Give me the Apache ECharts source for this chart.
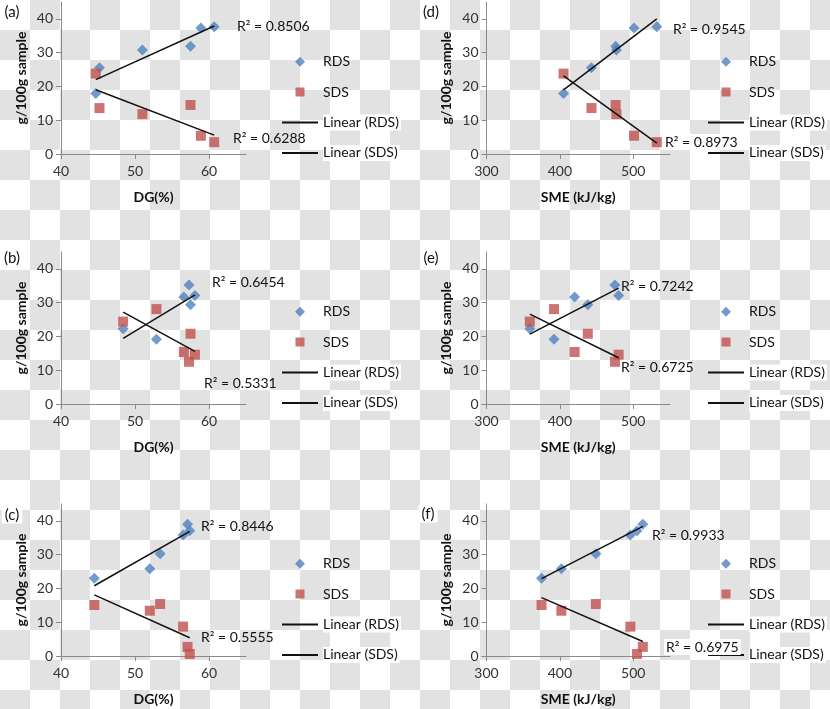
<!DOCTYPE html>
<html>
<head>
<meta charset="utf-8">
<script src="https://cdn.jsdelivr.net/npm/echarts@6/dist/echarts.min.js"></script>
<style>
  html, body { margin: 0; padding: 0; }
  body {
    width: 830px; height: 709px;
    background: repeating-conic-gradient(#e2e2e2 0 25%, #ffffff 0 50%) 0 0 / 60px 60px;
  }
  #chart { width: 830px; height: 709px; }
</style>
</head>
<body>
<div id="chart"></div>
<script>
// ---------- data ----------
// sample set 1 -> panels (a) and (d)
const dg1  = [44.7, 45.2, 51.0, 57.5, 58.9, 60.7];
const sme1 = [405, 443, 477, 476, 501, 532];
const rds1 = [17.9, 25.5, 30.8, 31.9, 37.3, 37.7];
const sds1 = [23.8, 13.6, 11.8, 14.5, 5.4, 3.5];
// sample set 2 -> panels (b) and (e)
const dg2  = [48.4, 52.9, 56.6, 57.3, 57.5, 58.1];
const sme2 = [359, 392, 420, 475, 438, 480];
const rds2 = [22.3, 19.2, 31.7, 35.2, 29.4, 32.1];
const sds2 = [24.4, 28.1, 15.4, 12.5, 20.8, 14.6];
// sample set 3 -> panels (c) and (f)
const dg3  = [44.5, 52.0, 53.4, 56.5, 57.1, 57.4];
const sme3 = [375, 402, 449, 496, 513, 505];
const rds3 = [23.0, 25.8, 30.3, 35.8, 39.0, 37.1];
const sds3 = [15.1, 13.4, 15.4, 8.7, 2.7, 0.6];

// trendline end points [[x0,y0],[x1,y1]]
const trendRdsA = [[44.7, 22.0], [60.7, 37.9]];
const trendSdsA = [[44.7, 19.0], [60.7, 5.6]];
const trendRdsB = [[48.4, 19.4], [58.1, 32.3]];
const trendSdsB = [[48.4, 27.2], [58.1, 15.6]];
const trendRdsC = [[44.5, 20.8], [57.4, 36.9]];
const trendSdsC = [[44.5, 18.1], [57.4, 5.4]];
const trendRdsD = [[405, 19.0], [532, 40.0]];
const trendSdsD = [[405, 23.1], [532, 3.2]];
const trendRdsE = [[359, 20.7], [480, 34.3]];
const trendSdsE = [[359, 26.6], [480, 13.7]];
const trendRdsF = [[375, 22.9], [513, 38.4]];
const trendSdsF = [[375, 17.3], [513, 4.3]];

const r2Labels = ['R² = 0.8506', 'R² = 0.6288', 'R² = 0.6454', 'R² = 0.5331', 'R² = 0.8446', 'R² = 0.5555',
                  'R² = 0.9545', 'R² = 0.8973', 'R² = 0.7242', 'R² = 0.6725', 'R² = 0.9933', 'R² = 0.6975'];
const panelLabels = ['(a)', '(b)', '(c)', '(d)', '(e)', '(f)'];

const dgTicks  = [40, 50, 60];
const smeTicks = [300, 400, 500];
const yTicks   = [0, 10, 20, 30, 40];
const legendNames = ['RDS', 'SDS', 'Linear (RDS)', 'Linear (SDS)'];

// ---------- build ----------
const pair = (xs, ys) => xs.map((x, i) => [x, ys[i]]);
const panels = [
  { x: dg1,  rds: rds1, sds: sds1, tr: trendRdsA, ts: trendSdsA, kind: 'dg' },
  { x: dg2,  rds: rds2, sds: sds2, tr: trendRdsB, ts: trendSdsB, kind: 'dg' },
  { x: dg3,  rds: rds3, sds: sds3, tr: trendRdsC, ts: trendSdsC, kind: 'dg' },
  { x: sme1, rds: rds1, sds: sds1, tr: trendRdsD, ts: trendSdsD, kind: 'sme' },
  { x: sme2, rds: rds2, sds: sds2, tr: trendRdsE, ts: trendSdsE, kind: 'sme' },
  { x: sme3, rds: rds3, sds: sds3, tr: trendRdsF, ts: trendSdsF, kind: 'sme' }
];
const FONT = 'Lato, "Liberation Sans", sans-serif';
const tops = [2, 252, 504];
const axisColor = '#8a8a8a';
// legend icons laid out in a 36x10 box (corner points fix the box so shapes keep their size)
const diamondIcon = 'path://M0,0L0,0ZM36,10L36,10ZM18,0L23,5L18,10L13,5Z';
const squareIcon  = 'path://M0,0L0,0ZM36,10L36,10ZM13.5,0.5H22.5V9.5H13.5Z';

const grid = [], xAxis = [], yAxis = [], series = [], legend = [];
panels.forEach((p, i) => {
  const col = i < 3 ? 0 : 1;
  const top = tops[i % 3];
  const left = col === 0 ? 61 : 486.5;
  grid.push({ left: left, top: top, width: col === 0 ? 185 : 183.5, height: 152 });
  xAxis.push({
    type: 'value', gridIndex: i,
    min: p.kind === 'dg' ? 40 : 300, max: p.kind === 'dg' ? 65 : 550,
    name: p.kind === 'dg' ? 'DG(%)' : 'SME (kJ/kg)',
    nameLocation: 'middle', nameGap: 36, nameMoveOverlap: false,
    nameTextStyle: { fontFamily: FONT, fontSize: 14, fontWeight: 'bold', color: '#111' },
    axisLine: { show: true, lineStyle: { color: axisColor, width: 1 } },
    axisTick: { show: true, length: 5, lineStyle: { color: axisColor },
                customValues: p.kind === 'dg' ? dgTicks : smeTicks },
    axisLabel: { fontFamily: FONT, fontSize: 14, color: '#333', margin: 10,
                 customValues: p.kind === 'dg' ? dgTicks : smeTicks },
    splitLine: { show: false }
  });
  yAxis.push({
    type: 'value', gridIndex: i, min: 0, max: 45,
    name: 'g/100g sample', nameLocation: 'middle', nameGap: 33, nameMoveOverlap: false,
    nameTextStyle: { fontFamily: FONT, fontSize: 14, fontWeight: 'bold', color: '#111' },
    axisLine: { show: true, lineStyle: { color: axisColor, width: 1 } },
    axisTick: { show: true, length: 5, lineStyle: { color: axisColor }, customValues: yTicks },
    axisLabel: { fontFamily: FONT, fontSize: 14, color: '#333', margin: 8, customValues: yTicks },
    splitLine: { show: false }
  });
  series.push({ name: 'RDS', type: 'scatter', xAxisIndex: i, yAxisIndex: i,
    symbol: 'diamond', symbolSize: 11, itemStyle: { color: '#4F81BD' }, data: pair(p.x, p.rds), z: 2 });
  series.push({ name: 'SDS', type: 'scatter', xAxisIndex: i, yAxisIndex: i,
    symbol: 'rect', symbolSize: 10, itemStyle: { color: '#C0504D' }, data: pair(p.x, p.sds), z: 2 });
  series.push({ name: 'Linear (RDS)', type: 'line', xAxisIndex: i, yAxisIndex: i, symbol: 'none',
    lineStyle: { color: '#111', width: 1.5 }, itemStyle: { color: '#111' }, data: p.tr, z: 3 });
  series.push({ name: 'Linear (SDS)', type: 'line', xAxisIndex: i, yAxisIndex: i, symbol: 'none',
    lineStyle: { color: '#111', width: 1.5 }, itemStyle: { color: '#111' }, data: p.ts, z: 3 });
  legend.push({
    orient: 'vertical', left: col === 0 ? 281 : 707, top: top + 51.7, padding: 0,
    itemWidth: 36, itemHeight: 10, itemGap: 14.4, selectedMode: false,
    textStyle: { fontFamily: FONT, fontSize: 14, color: '#111', lineHeight: 16 },
    data: [
      { name: legendNames[0], icon: diamondIcon },
      { name: legendNames[1], icon: squareIcon },
      { name: legendNames[2],
        itemStyle: { color: 'rgba(0,0,0,0)', borderColor: 'rgba(0,0,0,0)', borderWidth: 0 },
        textStyle: { backgroundColor: '#fff', padding: [0, 2, 0, 0] } },
      { name: legendNames[3],
        itemStyle: { color: 'rgba(0,0,0,0)', borderColor: 'rgba(0,0,0,0)', borderWidth: 0 },
        textStyle: { backgroundColor: '#fff', padding: [0, 2, 0, 0] } }
    ]
  });
});

// annotation texts (R² values and panel letters)
const r2Pos = [[237, 26], [233, 138], [212, 282], [204, 383], [201, 526], [201, 637],
               [673, 29], [663, 142], [621, 286], [621, 367], [652, 535], [664, 647]];
const r2Bg  = [false, false, false, false, false, false, false, true, false, false, false, true];
const panelPos = [[12, 12], [12, 258], [12, 515], [431, 12], [431, 258], [428, 514]];
const graphic = [];
r2Labels.forEach((t, k) => {
  graphic.push({ type: 'text', x: r2Pos[k][0], y: r2Pos[k][1], z: 10,
    style: { text: t, font: '14px ' + FONT, fill: '#111', verticalAlign: 'middle',
             backgroundColor: r2Bg[k] ? '#fff' : null, padding: r2Bg[k] ? [1, 2] : 0 } });
});
panelLabels.forEach((t, k) => {
  graphic.push({ type: 'text', x: panelPos[k][0], y: panelPos[k][1], z: 10,
    style: { text: t, font: '15px ' + FONT, fill: '#111', align: 'center', verticalAlign: 'middle',
             backgroundColor: '#fff', padding: [1, 3] } });
});

const chart = echarts.init(document.getElementById('chart'), null, { renderer: 'canvas' });
chart.setOption({
  backgroundColor: 'transparent',
  animation: false,
  grid, xAxis, yAxis, series, legend, graphic
});
</script>
</body>
</html>
